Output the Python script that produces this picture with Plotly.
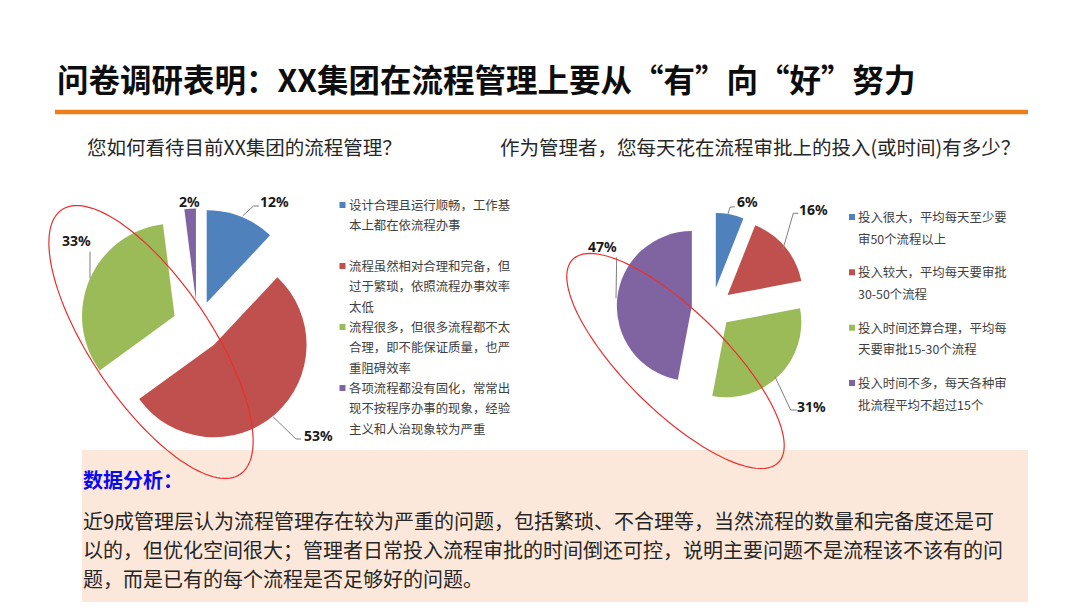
import numpy as np
import plotly.graph_objects as go

# page body keeps an 8px margin, so the figure is drawn 8px smaller and every
# pixel position below is given in window coordinates
OFF = 8
W, H = 1080 - OFF, 608 - OFF

# ---- data ----
q1_title = "您如何看待目前XX集团的流程管理？"
q1_labels = [
    "设计合理且运行顺畅，工作基本上都在依流程办事",
    "流程虽然相对合理和完备，但过于繁琐，依照流程办事效率太低",
    "流程很多，但很多流程都不太合理，即不能保证质量，也严重阻碍效率",
    "各项流程都没有固化，常常出现不按程序办事的现象，经验主义和人治现象较为严重",
]
q1_values = [12, 53, 33, 2]

q2_title = "作为管理者，您每天花在流程审批上的投入(或时间)有多少？"
q2_labels = [
    "投入很大，平均每天至少要审50个流程以上",
    "投入较大，平均每天要审批30-50个流程",
    "投入时间还算合理，平均每天要审批15-30个流程",
    "投入时间不多，每天各种审批流程平均不超过15个",
]
q2_values = [6, 16, 31, 47]

title = "问卷调研表明：XX集团在流程管理上要从“有”向“好”努力"
analysis_head = "数据分析："
analysis_lines = [
    "近9成管理层认为流程管理存在较为严重的问题，包括繁琐、不合理等，当然流程的数量和完备度还是可",
    "以的，但优化空间很大；管理者日常投入流程审批的时间倒还可控，说明主要问题不是流程该不该有的问",
    "题，而是已有的每个流程是否足够好的问题。",
]

colors = ["#4F81BD", "#C0504D", "#9BBB59", "#8064A2"]
CJK = "Noto Sans CJK SC"


def px(x):
    return (x - OFF) / W


def py(y):
    return 1 - (y - OFF) / H


def wrap(s, n):
    return [s[i:i + n] for i in range(0, len(s), n)]


def ellipse_path(cx, cy, a, b, deg):
    t = np.linspace(0, 2 * np.pi, 140)
    th = np.radians(deg)
    xs = cx + a * np.cos(t) * np.cos(th) - b * np.sin(t) * np.sin(th)
    ys = cy + a * np.cos(t) * np.sin(th) + b * np.sin(t) * np.cos(th)
    pts = [f"{px(x):.5f},{py(y):.5f}" for x, y in zip(xs, ys)]
    return "M " + " L ".join(pts) + " Z"


def poly_path(pts):
    return "M " + " L ".join(f"{px(x):.5f},{py(y):.5f}" for x, y in pts)


pull = 0.27
fig = go.Figure()
fig.add_trace(go.Pie(
    labels=q1_labels, values=q1_values, sort=False, direction="clockwise",
    rotation=0, pull=pull, marker=dict(colors=colors), textinfo="none",
    showlegend=False,
    domain=dict(x=[px(80), px(315)], y=[py(443.5), py(208.5)]),
))
fig.add_trace(go.Pie(
    labels=q2_labels, values=q2_values, sort=False, direction="clockwise",
    rotation=0, pull=pull, marker=dict(colors=colors), textinfo="none",
    showlegend=False,
    domain=dict(x=[px(616.75), px(807.25)], y=[py(403.25), py(212.75)]),
))

shapes = []
annotations = []

# title + orange rule
annotations.append(dict(x=px(55), y=py(78), xref="paper", yref="paper", text="<b>" + title + "</b>",
                        showarrow=False, xanchor="left", yanchor="middle",
                        font=dict(family=CJK, size=31.5, color="#0d0d0d")))
shapes.append(dict(type="line", xref="paper", yref="paper", x0=px(55), x1=px(1028),
                   y0=py(112), y1=py(112), line=dict(color="#EE7D1C", width=4.5)))

# subtitles
for txt, x in [(q1_title, 85), (q2_title, 498)]:
    annotations.append(dict(x=px(x), y=py(146), xref="paper", yref="paper", text=txt,
                            showarrow=False, xanchor="left", yanchor="middle",
                            font=dict(family=CJK, size=19.5, color="#262626")))

# analysis box
shapes.append(dict(type="rect", xref="paper", yref="paper", x0=px(82), x1=px(1028),
                   y0=py(602), y1=py(450), fillcolor="#FCE8DA", line=dict(width=0), layer="below"))
annotations.append(dict(x=px(81), y=py(479), xref="paper", yref="paper", text="<b>" + analysis_head + "</b>",
                        showarrow=False, xanchor="left", yanchor="middle",
                        font=dict(family=CJK, size=20, color="#0A0AF0")))
for i, line in enumerate(analysis_lines):
    annotations.append(dict(x=px(81), y=py(520 + 29 * i), xref="paper", yref="paper", text=line,
                            showarrow=False, xanchor="left", yanchor="middle",
                            font=dict(family=CJK, size=20, color="#262626")))

# legends
legend_specs = [
    (q1_labels, 13, 342.5, 347, [205, 266, 327, 388], 20.3),
    (q2_labels, 12, 852, 856, [217, 272.3, 327.7, 383], 21.5),
]
for labels, n, mx, tx, starts, step in legend_specs:
    for k, lab in enumerate(labels):
        y0 = starts[k]
        shapes.append(dict(type="rect", xref="paper", yref="paper", x0=px(mx - 3), x1=px(mx + 3),
                           y0=py(y0 + 3), y1=py(y0 - 3), fillcolor=colors[k], line=dict(width=0)))
        for j, part in enumerate(wrap(lab, n)):
            annotations.append(dict(x=px(tx), y=py(y0 + j * step), xref="paper", yref="paper",
                                    text=part, showarrow=False, xanchor="left", yanchor="middle",
                                    font=dict(family=CJK, size=12.4, color="#404040")))

# percent labels + leader lines
label_specs = [
    (q1_values, [(274.7, 202), (318, 435), (76, 241), (189, 202)],
     [[(259, 206), (253.5, 206), (242.7, 216)], [(301, 439), (296, 439), (273, 416.7)],
      [(90, 251.7), (90, 278.3)], None]),
    (q2_values, [(747, 202), (813.7, 209.3), (811.5, 406.7), (602.5, 246.7)],
     [[(735, 206.7), (730, 207.3), (727.3, 216)], [(798.3, 213.3), (793.3, 213.3), (782.7, 250)],
      [(796.7, 410), (790.7, 410), (775, 376.7)], [(616.7, 257.3), (616, 298.3)]]),
]
for vals, pos, leads in label_specs:
    for v, (x, y), lead in zip(vals, pos, leads):
        annotations.append(dict(x=px(x), y=py(y), xref="paper", yref="paper", text=f"<b>{v}%</b>",
                                showarrow=False, xanchor="center", yanchor="middle",
                                font=dict(family="Noto Sans", size=14, color="#1a1a1a")))
        if lead:
            shapes.append(dict(type="path", xref="paper", yref="paper", path=poly_path(lead),
                               line=dict(color="#7f7f7f", width=1)))

# red highlight ellipses
shapes.append(dict(type="path", xref="paper", yref="paper", path=ellipse_path(151, 342, 159.5, 60, 56),
                   line=dict(color="#E8302F", width=1.2)))
shapes.append(dict(type="path", xref="paper", yref="paper", path=ellipse_path(675.5, 361, 144.5, 50, 44.6),
                   line=dict(color="#E8302F", width=1.2)))

fig.update_layout(
    width=W, height=H, autosize=False,
    margin=dict(l=0, r=0, t=0, b=0),
    paper_bgcolor="white", plot_bgcolor="white",
    shapes=shapes, annotations=annotations,
    showlegend=False,
)

fig.write_html("out.html")
